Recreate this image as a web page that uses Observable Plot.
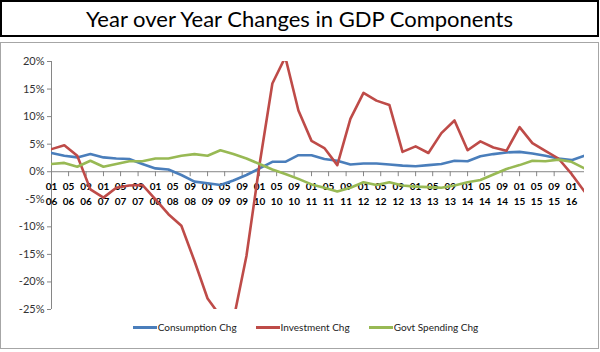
<!DOCTYPE html>
<html><head><meta charset="utf-8">
<script src="https://cdn.jsdelivr.net/npm/d3@7"></script>
<script src="https://cdn.jsdelivr.net/npm/@observablehq/plot@0.6"></script>
<style>
body{margin:0;background:#fff;font-family:Lato,"Liberation Sans",sans-serif;}
#wrap{position:relative;width:600px;height:352px;overflow:hidden;}
#title{position:absolute;left:0;top:0;width:595px;height:33px;border:2px solid #000;text-align:center;font-size:22px;line-height:33px;color:#000;}
#chart{position:absolute;left:0;top:42px;width:597px;height:305px;border:1px solid #a6a6a6;}
#plot{position:absolute;left:0;top:0;}
#legend{position:absolute;left:6px;top:278px;width:597px;display:flex;justify-content:center;gap:19px;font-size:10px;color:#222;}
.item{display:flex;align-items:center;}
.sw{display:inline-block;width:24px;height:3px;margin-right:1px;}
</style></head>
<body>
<div id="wrap">
  <div id="title">Year over Year Changes in GDP Components</div>
  <div id="chart"><div id="plot"></div><div id="legend"></div></div>
</div>
<script>
const quarters = ["2006-01","2006-04","2006-07","2006-10","2007-01","2007-04","2007-07","2007-10",
  "2008-01","2008-04","2008-07","2008-10","2009-01","2009-04","2009-07","2009-10",
  "2010-01","2010-04","2010-07","2010-10","2011-01","2011-04","2011-07","2011-10",
  "2012-01","2012-04","2012-07","2012-10","2013-01","2013-04","2013-07","2013-10",
  "2014-01","2014-04","2014-07","2014-10","2015-01","2015-04","2015-07","2015-10",
  "2016-01","2016-04"];
const consumption = [3.4,2.9,2.6,3.2,2.6,2.4,2.3,1.4,0.6,0.4,-0.6,-1.8,-2.1,-2.4,-1.6,-0.6,0.6,1.8,1.8,3.0,
  3.0,2.3,2.0,1.3,1.5,1.5,1.3,1.1,1.0,1.2,1.4,2.0,1.9,2.8,3.2,3.5,3.6,3.3,2.9,2.4,2.1,2.9];
const investment = [4.1,4.8,2.9,-3.2,-4.7,-2.9,-2.5,-2.4,-5.0,-7.7,-9.8,-16.2,-23.0,-26.2,-27.0,-15.3,1.3,16.0,20.8,11.1,
  5.6,4.3,1.2,9.6,14.3,12.9,12.1,3.6,4.6,3.4,7.0,9.3,3.9,5.5,4.4,3.8,8.1,5.2,3.8,2.4,-0.4,-3.6];
const govt = [1.4,1.6,0.9,2.0,0.9,1.4,1.9,1.9,2.4,2.4,2.9,3.2,2.9,3.9,3.2,2.4,1.4,0.4,-0.4,-1.3,
  -2.3,-2.9,-3.6,-2.9,-1.9,-2.4,-1.9,-2.5,-2.7,-2.8,-2.9,-2.5,-1.9,-1.5,-0.5,0.5,1.2,2.0,1.9,2.2,1.8,0.6];
const seriesNames = ["Consumption Chg","Investment Chg","Govt Spending Chg"];
const seriesColors = ["#4A7EBB","#BE4B48","#98B954"];
const xTicks = ["2006-01","2006-05","2006-09","2007-01","2007-05","2007-09","2008-01","2008-05","2008-09",
  "2009-01","2009-05","2009-09","2010-01","2010-05","2010-09","2011-01","2011-05","2011-09",
  "2012-01","2012-05","2012-09","2013-01","2013-05","2013-09","2014-01","2014-05","2014-09",
  "2015-01","2015-05","2015-09","2016-01"];
const yTicks = [-0.25,-0.20,-0.15,-0.10,-0.05,0,0.05,0.10,0.15,0.20];

const parse = d3.utcParse("%Y-%m");
const toRows = vals => quarters.map((q,i)=>({date: parse(q), value: vals[i]/100}));
const allSeries = [consumption, investment, govt];
const tickDates = xTicks.map(parse);
const axisGray = "#868686";

const chart = Plot.plot({
  width: 597, height: 276,
  marginLeft: 50, marginRight: 14, marginTop: 18, marginBottom: 10,
  style: {fontFamily: "Lato, 'Liberation Sans', sans-serif", fontSize: "11px", background: "transparent"},
  x: {type: "utc", domain: [parse(quarters[0]), parse(quarters[quarters.length-1])], axis: null},
  y: {domain: [-0.25, 0.20], axis: null},
  marks: [
    Plot.axisY({ticks: yTicks, tickFormat: d => `${Math.round(d*100)}%`, tickSize: 4, tickPadding: 3,
      stroke: axisGray, fill: "#333", fontSize: 11, label: null}),
    Plot.ruleX([parse(quarters[0])], {y1: -0.25, y2: 0.20, stroke: axisGray}),
    Plot.ruleY([0], {stroke: axisGray}),
    Plot.ruleX(tickDates, {x: d => d, y1: 0, y2: -0.009, stroke: axisGray}),
    Plot.text(tickDates, {x: d => d, y: 0, dy: 15, text: d => d3.utcFormat("%m")(d), fontWeight: "bold", fontSize: 10, fill: "#000"}),
    Plot.text(tickDates, {x: d => d, y: 0, dy: 30, text: d => d3.utcFormat("%y")(d), fontWeight: "bold", fontSize: 10, fill: "#000"}),
    ...allSeries.map((vals, k) => Plot.line(toRows(vals), {x: "date", y: "value", stroke: seriesColors[k], strokeWidth: 2.6, clip: true}))
  ]
});
document.getElementById("plot").appendChild(chart);

const legend = document.getElementById("legend");
seriesNames.forEach((n, k) => {
  const item = document.createElement("div");
  item.className = "item";
  item.innerHTML = `<span class="sw" style="background:${seriesColors[k]}"></span><span>${n}</span>`;
  legend.appendChild(item);
});
</script>
</body></html>
